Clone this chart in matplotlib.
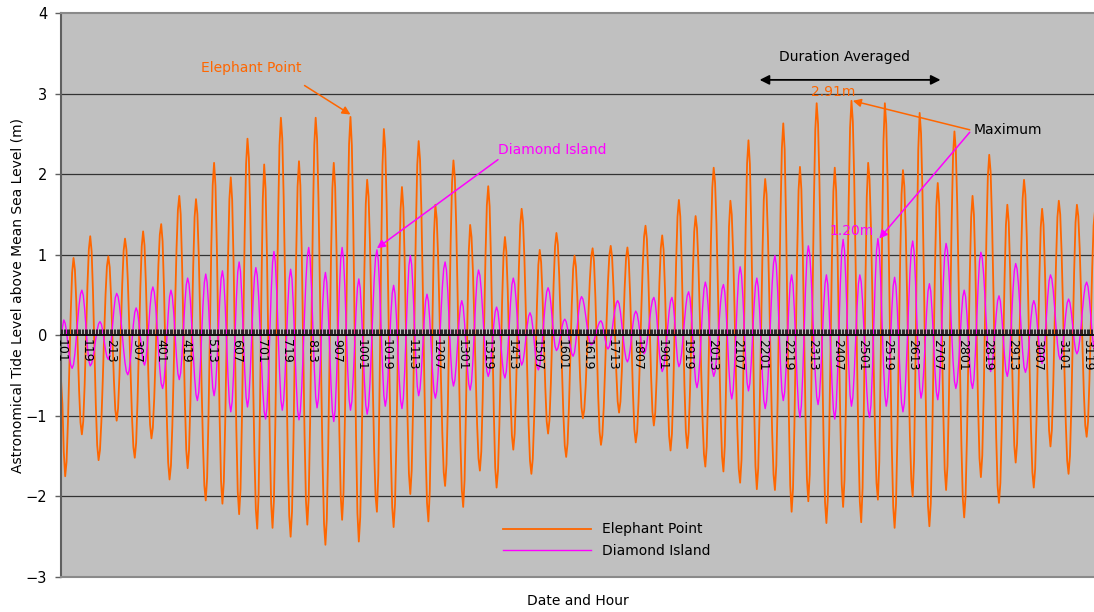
import numpy as np
import matplotlib
matplotlib.use("Agg")
import matplotlib.pyplot as plt

plt.rcParams['font.family'] = ['DejaVu Sans']

n_hours = 744  # 31 days, hourly, 1:00 .. 24:00

# high / low waters: hour index (0 = day 1 01:00) and level (m)
ep_hour = [0, 3, 9, 15, 21, 27, 34, 40, 46, 53, 59, 65, 72, 78, 85, 91, 97, 104, 110, 116,
           122, 128, 134, 141, 146, 152, 158, 165, 171, 177, 183, 190, 196, 202, 208, 214, 220, 227,
           232, 239, 245, 251, 257, 264, 269, 276, 282, 289, 294, 301, 307, 313, 319, 325, 331, 338,
           344, 350, 356, 363, 369, 375, 382, 388, 395, 401, 407, 413, 420, 426, 432, 438, 444, 450,
           456, 463, 469, 476, 481, 488, 494, 500, 506, 513, 519, 525, 531, 537, 543, 550, 556, 562,
           568, 575, 580, 587, 592, 599, 605, 612, 617, 624, 630, 636, 642, 649, 655, 661, 667, 674,
           680, 686, 692, 699, 705, 711, 717, 724, 730, 737, 743]
ep_level = [-0.55, -1.75, 0.96, -1.23, 1.23, -1.55, 0.98, -1.06, 1.20, -1.52, 1.29, -1.28, 1.38,
            -1.79, 1.73, -1.65, 1.69, -2.05, 2.14, -2.09, 1.96, -2.22, 2.44, -2.40, 2.12, -2.39,
            2.70, -2.50, 2.16, -2.35, 2.70, -2.60, 2.14, -2.29, 2.71, -2.56, 1.93, -2.19, 2.56,
            -2.38, 1.84, -1.97, 2.41, -2.31, 1.62, -1.87, 2.17, -2.13, 1.37, -1.68, 1.85, -1.89,
            1.22, -1.42, 1.57, -1.72, 1.06, -1.22, 1.27, -1.51, 0.99, -1.03, 1.08, -1.36, 1.11,
            -0.96, 1.09, -1.33, 1.36, -1.12, 1.24, -1.43, 1.68, -1.40, 1.48, -1.63, 2.08, -1.69,
            1.67, -1.83, 2.42, -1.91, 1.94, -1.92, 2.63, -2.19, 2.09, -2.06, 2.88, -2.33, 2.08,
            -2.13, 2.91, -2.32, 2.14, -2.04, 2.88, -2.39, 2.05, -2.00, 2.76, -2.37, 1.89, -1.92,
            2.53, -2.26, 1.73, -1.76, 2.24, -2.08, 1.62, -1.58, 1.93, -1.89, 1.57, -1.38, 1.67,
            -1.72, 1.62, -1.26, 1.55]

di_hour = [0, 2, 8, 15, 21, 28, 34, 40, 48, 54, 60, 66, 73, 79, 85, 91, 98, 104, 110, 116, 122,
           128, 134, 140, 147, 153, 159, 165, 171, 178, 184, 190, 196, 202, 208, 214, 220, 227, 233,
           239, 245, 251, 257, 263, 269, 276, 282, 288, 294, 300, 307, 313, 319, 325, 331, 337, 343,
           350, 356, 362, 368, 374, 381, 388, 393, 400, 407, 413, 419, 426, 432, 439, 444, 451, 457,
           463, 469, 476, 482, 488, 494, 500, 506, 513, 519, 525, 531, 537, 544, 550, 556, 562, 568,
           574, 581, 587, 593, 599, 605, 612, 618, 624, 630, 636, 643, 649, 655, 661, 668, 674, 680,
           686, 693, 699, 705, 711, 718, 724, 730, 737, 743]
di_level = [0.00, 0.19, -0.41, 0.56, -0.38, 0.17, -0.30, 0.52, -0.49, 0.34, -0.37, 0.60, -0.66,
            0.56, -0.55, 0.71, -0.81, 0.76, -0.75, 0.80, -0.95, 0.91, -0.89, 0.84, -1.04, 1.04,
            -0.93, 0.82, -1.05, 1.09, -0.90, 0.78, -1.07, 1.09, -0.93, 0.70, -0.98, 1.06, -0.88,
            0.62, -0.91, 0.99, -0.75, 0.51, -0.78, 0.91, -0.63, 0.43, -0.68, 0.81, -0.51, 0.35,
            -0.53, 0.71, -0.37, 0.28, -0.43, 0.59, -0.19, 0.20, -0.26, 0.48, -0.12, 0.18, -0.17,
            0.43, -0.33, 0.30, -0.23, 0.47, -0.45, 0.47, -0.39, 0.54, -0.65, 0.66, -0.51, 0.63,
            -0.79, 0.85, -0.69, 0.71, -0.91, 0.99, -0.81, 0.75, -1.02, 1.11, -0.86, 0.75, -1.04,
            1.19, -0.88, 0.75, -1.02, 1.20, -0.88, 0.72, -0.95, 1.17, -0.78, 0.64, -0.80, 1.14,
            -0.66, 0.56, -0.66, 1.03, -0.45, 0.49, -0.51, 0.89, -0.46, 0.43, -0.35, 0.75, -0.30,
            0.45, -0.23, 0.66, -0.20]

date_labels = ['101', '119', '213', '307', '401', '419', '513', '607', '701', '719', '813',
               '907', '1001', '1019', '1113', '1207', '1301', '1319', '1413', '1507', '1601',
               '1619', '1713', '1807', '1901', '1919', '2013', '2107', '2201', '2219', '2313',
               '2407', '2501', '2519', '2613', '2707', '2801', '2819', '2913', '3007', '3101',
               '3119']
label_step = 18

# averaging window (hour index)
avg_start, avg_end = 502, 632

orange = '#FF6600'
magenta = '#FF00FF'


def tide_curve(hours, levels):
    # half-cosine between successive high and low waters, sampled hourly
    t = np.arange(n_hours)
    out = np.zeros(n_hours)
    for t0, t1, v0, v1 in zip(hours[:-1], hours[1:], levels[:-1], levels[1:]):
        seg = (t >= t0) & (t <= t1)
        ph = (t[seg] - t0) / (t1 - t0)
        out[seg] = v0 + (v1 - v0) * (1 - np.cos(np.pi * ph)) / 2
    return out


hrs = np.arange(n_hours)
elephant = tide_curve(ep_hour, ep_level)
diamond = tide_curve(di_hour, di_level)

fig = plt.figure(figsize=(10.94, 6.12), dpi=100)
ax = fig.add_axes([61 / 1094, 35 / 612, 1034 / 1094, 564 / 612])
ax.set_facecolor('#C0C0C0')
ax.set_xlim(0, n_hours - 1)
ax.set_ylim(-3, 4)

for g in [-2, -1, 1, 2, 3]:
    ax.axhline(g, color='#333333', lw=0.9, zorder=1)

l1, = ax.plot(hrs, elephant, color=orange, lw=1.3, zorder=2, label='Elephant Point')
l2, = ax.plot(hrs, diamond, color=magenta, lw=1.0, zorder=2.1, label='Diamond Island')

# frame
ax.spines['left'].set_color('#606060')
ax.spines['left'].set_linewidth(1.5)
ax.spines['top'].set_color('#8a8a8a')
ax.spines['top'].set_linewidth(1.5)
ax.spines['right'].set_visible(False)
ax.axhline(-3, color='#8a8a8a', lw=1.5, clip_on=False, zorder=4)

# category axis crosses at zero, a tick for every hour
ax.spines['bottom'].set_position(('data', 0))
ax.spines['bottom'].set_color('black')
ax.spines['bottom'].set_linewidth(1.3)
ax.spines['bottom'].set_zorder(4)
ax.xaxis.set_zorder(5)
ax.set_xticks(hrs)
tick_text = [''] * n_hours
for i, lab in enumerate(date_labels):
    tick_text[i * label_step] = lab
ax.set_xticklabels(tick_text, rotation=-90, fontsize=9, va='top', ha='center')
ax.tick_params(axis='x', direction='in', length=4.5, width=0.6, color='#111111', pad=3)

ax.set_yticks(range(-3, 5))
ax.tick_params(axis='y', direction='out', length=4, width=1, color='#606060', labelsize=10.5, pad=6)

fig.text(18 / 1094, 1 - 295 / 612, 'Astronomical Tide Level above Mean Sea Level (m)',
         fontsize=10, rotation=90, ha='center', va='center')
fig.text(578 / 1094, 1 - 601 / 612, 'Date and Hour', fontsize=10, ha='center', va='center')

ax.legend(handles=[l1, l2], loc='upper left', bbox_to_anchor=(490 / 1094, 1 - 510 / 612),
          bbox_transform=fig.transFigure, frameon=False, fontsize=10, handlelength=6.4,
          handletextpad=0.8, labelspacing=0.55)

# annotations
ep_max = int(np.argmax(elephant))
di_max = int(np.argmax(diamond))

ax.text(137, 3.32, 'Elephant Point', color=orange, fontsize=10, ha='center', va='center')
ax.annotate('', xy=(208, elephant[208] + 0.03), xytext=(175, 3.10),
            arrowprops=dict(arrowstyle='-|>', color=orange, lw=1.1, mutation_scale=12,
                            shrinkA=0, shrinkB=0))

ax.text(353, 2.30, 'Diamond Island', color=magenta, fontsize=10, ha='center', va='center')
ax.annotate('', xy=(227, diamond[227] + 0.02), xytext=(314, 2.18),
            arrowprops=dict(arrowstyle='-|>', color=magenta, lw=1.1, mutation_scale=12,
                            shrinkA=0, shrinkB=0))

ax.text(563, 3.45, 'Duration Averaged', color='black', fontsize=10, ha='center', va='center')
ax.annotate('', xy=(avg_end, 3.17), xytext=(avg_start, 3.17),
            arrowprops=dict(arrowstyle='<|-|>', color='black', lw=1.3, mutation_scale=14,
                            shrinkA=0, shrinkB=0))

ax.text(ep_max - 13, elephant[ep_max] + 0.11, f'{elephant[ep_max]:.2f}m', color=orange,
        fontsize=10, ha='center', va='center')
ax.text(di_max - 19, diamond[di_max] + 0.10, f'{diamond[di_max]:.2f}m', color=magenta,
        fontsize=10, ha='center', va='center')

ax.text(656, 2.55, 'Maximum', color='black', fontsize=10, ha='left', va='center')
ax.annotate('', xy=(ep_max + 1, elephant[ep_max]), xytext=(653, 2.55),
            arrowprops=dict(arrowstyle='-|>', color=orange, lw=1.1, mutation_scale=12,
                            shrinkA=0, shrinkB=0))
ax.annotate('', xy=(di_max + 1, diamond[di_max]), xytext=(653, 2.52),
            arrowprops=dict(arrowstyle='-|>', color=magenta, lw=1.1, mutation_scale=12,
                            shrinkA=0, shrinkB=0))

fig.savefig('out.png', dpi=100)
